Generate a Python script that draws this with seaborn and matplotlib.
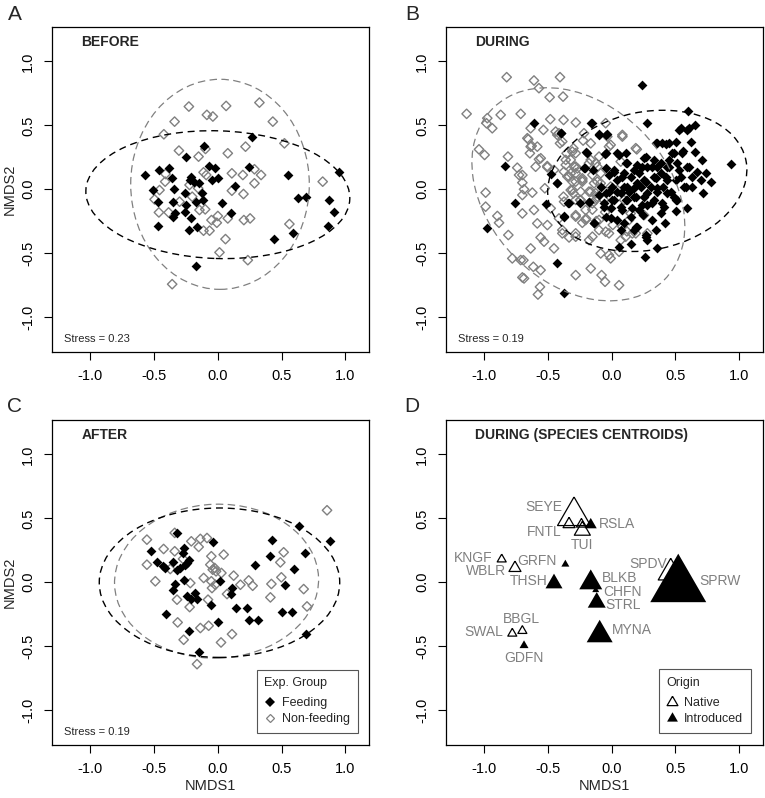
import numpy as np
import pandas as pd
import matplotlib
matplotlib.use("Agg")
import matplotlib.pyplot as plt
from matplotlib.patches import Ellipse
from matplotlib.lines import Line2D
import seaborn as sns

# ---------------------------------------------------------------- data
# Panel A (BEFORE): site scores (NMDS1, NMDS2)
A_feeding = [(-0.574, 0.111), (-0.462, 0.150), (-0.379, 0.169), (-0.507, -0.007), (-0.470, -0.098),
             (-0.470, -0.289), (-0.360, 0.085), (-0.352, -0.098), (-0.342, -0.001), (-0.332, -0.184),
             (-0.352, -0.216), (-0.253, 0.255), (-0.258, -0.027), (-0.253, -0.124), (-0.258, -0.176),
             (-0.209, 0.098), (-0.222, 0.072), (-0.183, 0.059), (-0.144, 0.051), (-0.209, -0.229),
             (-0.227, -0.320), (-0.170, -0.098), (-0.125, -0.027), (-0.117, -0.085), (-0.162, -0.294),
             (-0.110, 0.341), (-0.070, 0.182), (-0.026, 0.163), (-0.047, 0.072), (0.003, 0.085),
             (0.034, -0.111), (0.104, -0.184), (0.138, 0.025), (0.243, 0.176), (0.269, 0.412),
             (-0.170, -0.600), (0.548, 0.111), (0.627, -0.067), (0.692, -0.059), (0.439, -0.391),
             (0.587, -0.341), (0.948, 0.132), (0.875, -0.085), (0.914, -0.182), (0.862, -0.289)]
A_nonfeeding = [(-0.227, 0.647), (-0.086, 0.582), (-0.039, 0.569), (0.065, 0.652), (0.326, 0.678),
                (0.431, 0.529), (-0.339, 0.529), (-0.423, 0.430), (-0.305, 0.302), (-0.151, 0.255),
                (-0.097, 0.315), (0.078, 0.281), (0.217, 0.333), (0.522, 0.359), (-0.410, 0.119),
                (-0.413, 0.059), (-0.457, -0.007), (-0.496, -0.080), (-0.462, -0.182), (-0.386, -0.182),
                (-0.300, -0.098), (-0.201, -0.059), (-0.222, 0.033), (-0.154, 0.007), (-0.144, -0.163),
                (-0.099, -0.158), (-0.091, 0.111), (-0.112, -0.325), (-0.065, -0.325), (-0.050, -0.242),
                (0.000, -0.210), (-0.008, -0.263), (0.078, -0.229), (0.110, 0.124), (0.110, -0.012),
                (0.196, 0.111), (0.201, -0.038), (0.287, 0.156), (0.339, 0.111), (0.287, 0.046),
                (0.204, -0.242), (0.253, -0.229), (0.060, -0.391), (0.013, -0.495), (0.235, -0.556),
                (-0.358, -0.744), (0.561, -0.273), (0.822, 0.059), (-0.112, 0.132)]

# Panel B (DURING)
B_feeding = [(0.242, 0.817), (-0.608, 0.522), (-0.163, 0.522), (0.281, 0.522), (0.603, 0.613),
             (-0.393, 0.438), (-0.098, 0.433), (-0.039, 0.433), (-0.837, 0.181), (-0.190, 0.281),
             (-0.051, 0.276), (0.059, 0.268), (0.268, 0.250), (-0.209, 0.168), (-0.143, 0.150),
             (-0.477, 0.116), (-0.425, 0.046), (-0.757, -0.111), (-0.974, -0.307), (-0.516, -0.116),
             (-0.373, -0.210), (-0.341, -0.111), (-0.247, -0.111), (-0.137, -0.268), (-0.176, -0.098),
             (-0.425, -0.577), (-0.373, -0.812), (0.059, -0.451), (0.155, -0.433), (0.260, -0.529),
             (0.359, -0.464), (0.281, -0.399), (0.203, -0.294), (0.268, -0.378), (0.420, -0.268),
             (0.072, -0.320), (-0.007, -0.229), (0.940, 0.197), (0.359, 0.359), (0.425, 0.354),
             (0.503, 0.372), (0.543, 0.477), (0.608, 0.477), (0.652, 0.503), (0.490, 0.281),
             (0.621, 0.372), (0.652, 0.294), (0.713, 0.229), (0.739, 0.124), (0.783, 0.059),
             (0.720, -0.033), (0.595, -0.150), (0.516, -0.085), (0.503, -0.168), (0.412, -0.137),
             (0.333, -0.085), (0.359, 0.007), (0.438, 0.072), (0.543, 0.098), (0.595, 0.176),
             (0.673, 0.137), (0.516, 0.203), (0.438, 0.176), (0.359, 0.176), (0.281, 0.176),
             (0.203, 0.189), (0.124, 0.203), (0.098, 0.124), (0.150, 0.098), (0.216, 0.124),
             (0.255, 0.072), (0.333, 0.098), (0.386, 0.124), (0.307, 0.020), (0.229, 0.020),
             (0.176, 0.007), (0.098, 0.020), (0.046, 0.072), (-0.020, 0.111), (-0.085, 0.020),
             (-0.046, -0.033), (0.007, -0.085), (-0.059, -0.137), (0.072, -0.137), (0.124, -0.085),
             (0.176, -0.059), (0.255, -0.059), (0.281, -0.124), (0.216, -0.163), (0.150, -0.216),
             (0.098, -0.268), (0.490, -0.059), (0.569, 0.020), (0.634, 0.020), (0.700, 0.072),
             (0.438, -0.033), (0.386, -0.190), (0.320, -0.242), (0.072, -0.033), (0.020, 0.150),
             (0.110, 0.280), (0.330, 0.230), (0.450, 0.230), (0.560, 0.300), (0.250, -0.200),
             (0.180, -0.320), (0.350, -0.320), (0.000, 0.020), (0.140, -0.020), (0.400, 0.020),
             (-0.150, 0.517), (-0.098, 0.425), (-0.046, 0.425), (-0.203, 0.295), (-0.046, 0.282),
             (0.046, 0.282), (0.111, 0.203), (0.255, 0.242), (0.346, 0.360), (0.399, 0.360),
             (0.451, 0.360), (0.477, 0.282), (0.556, 0.282), (0.529, 0.465), (0.595, 0.465),
             (-0.216, 0.164), (-0.046, 0.164), (0.020, 0.138), (0.085, 0.099), (0.176, 0.151),
             (0.242, 0.177), (0.320, 0.177), (0.386, 0.203), (0.451, 0.177), (0.529, 0.151),
             (0.608, 0.177), (0.634, 0.099), (0.582, 0.020), (0.503, 0.072), (0.425, 0.099),
             (0.346, 0.085), (0.268, 0.059), (0.203, 0.046), (0.124, 0.020), (0.046, -0.019),
             (-0.020, -0.019), (-0.098, -0.045), (-0.177, -0.097), (-0.059, -0.111), (0.020, -0.084),
             (0.111, -0.084), (0.190, -0.058), (0.281, -0.032), (0.359, -0.019), (0.464, -0.019),
             (0.503, -0.084), (0.399, -0.111), (0.320, -0.111), (0.242, -0.124), (0.163, -0.150),
             (0.085, -0.163), (-0.007, -0.150), (-0.046, -0.215), (0.046, -0.241), (0.268, -0.359),
             (0.190, -0.294), (-0.137, -0.267), (-0.333, -0.111), (-0.399, 0.438), (-0.373, -0.215),
             (-0.425, 0.046)]
B_nonfeeding = [(-1.136, 0.590), (-0.822, 0.877), (-0.608, 0.851), (-0.569, 0.791), (-0.404, 0.877),
                (-0.485, 0.720), (-0.380, 0.725), (-0.974, 0.556), (-0.869, 0.582), (-0.935, 0.477),
                (-0.980, 0.516), (-0.712, 0.590), (-0.634, 0.477), (-0.534, 0.464), (-0.480, 0.548),
                (-0.376, 0.542), (-0.280, 0.522), (-1.039, 0.312), (-0.995, 0.268), (-0.812, 0.255),
                (-0.739, 0.168), (-0.660, 0.399), (-0.634, 0.333), (-0.582, 0.333), (-0.640, 0.281),
                (-0.569, 0.234), (-0.595, 0.176), (-0.504, 0.181), (-0.425, 0.425), (-0.404, 0.359),
                (-0.299, 0.320), (-0.352, 0.281), (-0.216, 0.438), (-0.163, 0.359), (-0.020, 0.333),
                (0.085, 0.412), (0.198, 0.312), (-0.699, 0.111), (-0.699, 0.051), (-0.686, -0.001),
                (-0.621, -0.027), (-0.699, -0.046), (-0.987, -0.027), (-0.987, -0.137), (-0.895, -0.210),
                (-0.882, -0.263), (-0.809, -0.359), (-0.699, -0.190), (-0.608, -0.163), (-0.523, 0.007),
                (-0.451, 0.150), (-0.373, 0.137), (-0.320, 0.124), (-0.268, 0.163), (-0.307, 0.059),
                (-0.229, 0.072), (-0.320, -0.007), (-0.299, -0.033), (-0.377, -0.059), (-0.247, -0.085),
                (-0.163, -0.020), (-0.150, -0.111), (-0.111, 0.176), (-0.085, 0.124), (-0.111, -0.059),
                (-0.059, -0.085), (-0.477, -0.150), (-0.412, -0.229), (-0.503, -0.281), (-0.281, -0.203),
                (-0.229, -0.263), (-0.281, -0.346), (-0.333, -0.378), (-0.634, -0.464), (-0.451, -0.464),
                (-0.556, -0.378), (-0.778, -0.542), (-0.691, -0.556), (-0.613, -0.608), (-0.556, -0.634),
                (-0.699, -0.691), (-0.561, -0.765), (-0.577, -0.825), (-0.281, -0.673), (-0.163, -0.621),
                (-0.176, -0.399), (-0.085, -0.503), (-0.020, -0.516), (-0.007, -0.542), (-0.078, -0.673),
                (-0.051, -0.725), (0.059, -0.752), (0.059, -0.490), (-0.020, -0.346), (-0.098, -0.320),
                (0.072, -0.399), (0.137, -0.242), (0.190, -0.346), (0.255, -0.203), (0.150, -0.190),
                (0.098, -0.085), (0.046, -0.007), (-0.007, 0.020), (-0.137, 0.046), (-0.085, 0.046),
                (-0.098, 0.255), (0.072, 0.216), (0.281, -0.346), (-0.163, 0.229), (-0.582, -0.268),
                (-0.386, -0.320), (-0.652, 0.391), (-0.626, 0.339), (-0.555, 0.242), (-0.503, 0.172),
                (-0.438, 0.451), (-0.307, 0.294), (-0.223, 0.381), (-0.359, 0.229), (-0.294, 0.177),
                (-0.725, 0.111), (-0.346, 0.099), (-0.229, 0.059), (-0.281, 0.125), (-0.372, -0.098),
                (-0.242, -0.085), (-0.150, -0.160), (-0.200, -0.230), (-0.120, -0.250), (-0.050, -0.180),
                (0.010, -0.280), (0.120, -0.330), (-0.529, -0.411), (-0.712, -0.555), (-0.686, -0.699),
                (-0.412, 0.438), (-0.386, 0.373), (-0.281, 0.282), (-0.320, 0.229), (-0.359, 0.190),
                (-0.281, 0.177), (-0.177, 0.203), (-0.124, 0.203), (-0.333, 0.099), (-0.281, 0.059),
                (-0.229, 0.085), (-0.150, 0.112), (-0.111, 0.059), (-0.307, -0.006), (-0.242, -0.019),
                (-0.177, -0.019), (-0.124, -0.032), (-0.281, -0.084), (-0.203, -0.163), (-0.124, -0.084),
                (-0.281, -0.215), (-0.203, -0.241), (-0.098, -0.241), (-0.386, -0.346), (-0.281, -0.372),
                (-0.150, -0.372), (-0.046, -0.333), (0.085, -0.294), (0.163, -0.346), (0.111, -0.372),
                (-0.033, 0.412), (0.085, 0.425), (0.190, 0.321), (-0.046, 0.517), (-0.007, 0.347)]

# Panel C (AFTER)
C_feeding = [(-0.320, 0.386), (-0.040, 0.312), (-0.268, 0.268), (-0.273, 0.229), (-0.524, 0.242),
             (-0.477, 0.155), (-0.417, 0.111), (-0.430, 0.124), (-0.354, 0.155), (-0.294, 0.111),
             (-0.320, 0.098), (-0.255, 0.137), (-0.229, 0.176), (-0.242, 0.150), (-0.268, 0.020),
             (-0.338, -0.012), (-0.354, -0.059), (-0.242, -0.111), (-0.208, -0.132), (-0.163, -0.132),
             (-0.176, -0.085), (-0.054, -0.177), (0.014, 0.007), (0.111, -0.046), (0.106, -0.093),
             (-0.406, -0.250), (-0.229, -0.386), (0.001, -0.315), (-0.150, -0.550), (0.145, -0.203),
             (0.229, -0.203), (0.242, -0.299), (0.315, -0.294), (0.289, 0.137), (0.407, 0.203),
             (0.425, 0.333), (0.503, -0.234), (0.524, -0.020), (0.582, -0.234), (0.595, 0.106),
             (0.681, 0.226), (0.634, 0.443), (0.877, 0.326), (0.694, -0.407)]
C_nonfeeding = [(0.856, 0.563), (-0.556, 0.333), (-0.556, 0.137), (-0.490, 0.007), (-0.425, 0.260),
                (-0.373, 0.103), (-0.338, 0.242), (-0.338, 0.386), (-0.208, 0.320), (-0.137, 0.339),
                (-0.085, 0.346), (-0.150, 0.276), (-0.051, 0.203), (0.046, 0.216), (-0.059, 0.137),
                (-0.040, 0.098), (-0.025, 0.111), (-0.014, 0.085), (0.028, 0.072), (-0.111, 0.033),
                (-0.051, 0.007), (-0.020, -0.020), (-0.046, -0.046), (0.072, -0.093), (0.124, 0.051),
                (0.177, -0.020), (0.242, 0.014), (0.273, -0.028), (-0.216, -0.007), (-0.320, -0.137),
                (-0.221, -0.195), (-0.077, -0.137), (-0.315, -0.315), (-0.137, -0.359), (-0.072, -0.341),
                (-0.268, -0.451), (0.025, -0.472), (0.111, -0.407), (-0.163, -0.642), (0.420, -0.014),
                (0.498, 0.038), (0.490, 0.155), (0.516, 0.234), (0.412, -0.119), (0.673, -0.054),
                (0.699, -0.190), (-0.273, 0.182)]

# Ellipses: centre x, centre y, full width, full height, angle (deg)
A_ell_feeding = (0.000, -0.043, 2.07, 1.00, -1.8)
A_ell_nonfeeding = (0.017, 0.038, 1.40, 1.645, 0.0)
B_ell_feeding = (0.280, 0.065, 1.58, 1.08, 12.0)
B_ell_nonfeeding = (-0.260, -0.040, 1.90, 1.40, -45.0)
C_ell_feeding = (0.013, -0.004, 1.885, 1.17, 0.0)
C_ell_nonfeeding = (-0.010, 0.008, 1.60, 1.205, 2.0)

stress_values = ["0.23", "0.19", "0.19"]
panel_titles = ["BEFORE", "DURING", "AFTER", "DURING (SPECIES CENTROIDS)"]
panel_letters = ["A", "B", "C", "D"]
tick_values = [-1.0, -0.5, 0.0, 0.5, 1.0]
tick_labels = ["-1.0", "-0.5", "0.0", "0.5", "1.0"]

# Panel D: species centroids
species = ["SEYE", "FNTL", "", "TUI", "RSLA", "KNGF", "WBLR", "GRFN", "THSH", "BLKB",
           "CHFN", "STRL", "MYNA", "SPDV", "SPRW", "BBGL", "SWAL", "GDFN"]
species_x = [-0.294, -0.333, -0.236, -0.229, -0.163, -0.861, -0.757, -0.362, -0.451, -0.163,
             -0.124, -0.116, -0.093, 0.464, 0.523, -0.699, -0.778, -0.686]
species_y = [0.518, 0.454, 0.454, 0.404, 0.449, 0.179, 0.111, 0.140, -0.010, -0.004,
             -0.062, -0.159, -0.412, 0.074, -0.030, -0.381, -0.402, -0.496]
species_origin = ["Native", "Native", "Native", "Native", "Introduced", "Native", "Native", "Introduced",
                  "Introduced", "Introduced", "Introduced", "Introduced", "Introduced", "Native",
                  "Introduced", "Native", "Native", "Introduced"]
species_cex = [3.3, 1.2, 1.0, 1.6, 1.2, 0.9, 1.2, 0.8, 1.7, 2.3, 0.7, 1.8, 2.6, 2.5, 5.6, 0.9, 0.9, 0.9]

# ---------------------------------------------------------------- layout / style
W, H = 765, 798
GREY = "#808080"
XLIM = (-1.30, 1.185)
YLIM = (-1.275, 1.27)
axes_px = {"A": (52, 27), "B": (445.7, 27), "C": (52, 420), "D": (445.7, 420)}
AX_W, AX_H = 317, 325
label_xy = {"SEYE": (-0.529, 0.589), "FNTL": (-0.529, 0.390), "TUI": (-0.234, 0.294),
            "RSLA": (0.041, 0.459), "KNGF": (-1.086, 0.189), "WBLR": (-0.987, 0.085),
            "GRFN": (-0.582, 0.163), "THSH": (-0.647, 0.006), "BLKB": (0.067, 0.030),
            "CHFN": (0.085, -0.075), "STRL": (0.090, -0.182), "MYNA": (0.161, -0.373),
            "SPDV": (0.289, 0.145), "SPRW": (0.848, 0.006), "BBGL": (-0.704, -0.287),
            "SWAL": (-1.005, -0.394), "GDFN": (-0.686, -0.590)}

sns.set_theme(style="white")
plt.rcParams["font.family"] = ["Liberation Sans", "DejaVu Sans"]
plt.rcParams["axes.linewidth"] = 0.9

fig = plt.figure(figsize=(W / 100, H / 100), dpi=100)
axes = {}
for k, (lx, ty) in axes_px.items():
    axes[k] = fig.add_axes([lx / W, 1 - (ty + AX_H) / H, AX_W / W, AX_H / H])

TRI = np.array([[0, 0.57735], [-0.5, -0.288675], [0.5, -0.288675], [0, 0.57735]])
S_FILLED = 25
S_OPEN = 23


def style_axes(ax, xlabel, ylabel):
    ax.set_xlim(*XLIM)
    ax.set_ylim(*YLIM)
    ax.set_xticks(tick_values)
    ax.set_xticklabels(tick_labels)
    ax.set_yticks(tick_values)
    ax.set_yticklabels(tick_labels, rotation=90, va="center")
    ax.tick_params(axis="both", which="major", direction="out", length=5.5, width=0.8,
                   labelsize=10.5, color="black", labelcolor="black", pad=6.5,
                   bottom=True, left=True)
    for sp in ax.spines.values():
        sp.set_color("black")
        sp.set_linewidth(0.9)
    ax.set_xlabel(xlabel, fontsize=10.5)
    ax.set_ylabel(ylabel, fontsize=10.5)
    ax.xaxis.set_label_coords(0.5, -0.105)
    ax.yaxis.set_label_coords(-0.112, 0.5)


def add_ellipse(ax, e, color, lw, dashes):
    cx, cy, w, h, ang = e
    ax.add_patch(Ellipse((cx, cy), w, h, angle=ang, fill=False, edgecolor=color,
                         linewidth=lw, linestyle=(0, dashes), zorder=5))


def site_panel(ax, feed, nonfeed, ell_f, ell_n, title, stress, xlabel, ylabel):
    dn = pd.DataFrame(nonfeed, columns=["NMDS1", "NMDS2"])
    df = pd.DataFrame(feed, columns=["NMDS1", "NMDS2"])
    sns.scatterplot(data=dn, x="NMDS1", y="NMDS2", marker="D", s=S_OPEN,
                    facecolor="none", edgecolor=GREY, linewidth=1.0, ax=ax, legend=False, zorder=3)
    sns.scatterplot(data=df, x="NMDS1", y="NMDS2", marker="D", s=S_FILLED,
                    color="black", linewidth=0, ax=ax, legend=False, zorder=4)
    add_ellipse(ax, ell_n, GREY, 0.9, (6, 3.5))
    add_ellipse(ax, ell_f, "black", 1.0, (5, 3.5))
    ax.text(0.092, 0.955, title, transform=ax.transAxes, fontsize=10, fontweight="bold",
            ha="left", va="center")
    ax.text(0.038, 0.04, f"Stress = {stress}", transform=ax.transAxes, fontsize=8,
            ha="left", va="center")
    style_axes(ax, xlabel, ylabel)


def make_legend(ax, handles, title, anchor):
    leg = ax.legend(handles=handles, title=title, loc="lower right", bbox_to_anchor=anchor,
                    borderaxespad=0, fontsize=9, title_fontsize=9, alignment="left",
                    frameon=True, fancybox=False, edgecolor="#555555", framealpha=1,
                    handlelength=0.9, handletextpad=0.55, borderpad=0.6, labelspacing=0.32)
    leg.get_frame().set_linewidth(0.8)
    leg._legend_box.sep = 6
    return leg


site_panel(axes["A"], A_feeding, A_nonfeeding, A_ell_feeding, A_ell_nonfeeding,
           panel_titles[0], stress_values[0], "", "NMDS2")
site_panel(axes["B"], B_feeding, B_nonfeeding, B_ell_feeding, B_ell_nonfeeding,
           panel_titles[1], stress_values[1], "", "")
site_panel(axes["C"], C_feeding, C_nonfeeding, C_ell_feeding, C_ell_nonfeeding,
           panel_titles[2], stress_values[2], "NMDS1", "NMDS2")

make_legend(axes["C"],
            [Line2D([], [], marker="D", linestyle="none", color="black", markersize=4.6,
                    markeredgewidth=0, label="Feeding"),
             Line2D([], [], marker="D", linestyle="none", markerfacecolor="none",
                    markeredgecolor=GREY, markersize=4.4, markeredgewidth=0.9, label="Non-feeding")],
            "Exp. Group", (0.965, 0.037))

# Panel D
axd = axes["D"]
dd = pd.DataFrame({"name": species, "NMDS1": species_x, "NMDS2": species_y,
                   "origin": species_origin, "cex": species_cex})
dd["area"] = (dd["cex"] * 10 / (0.866 * 100 / 72)) ** 2
amin, amax = dd["area"].min(), dd["area"].max()
sns.scatterplot(data=dd[dd.origin == "Native"], x="NMDS1", y="NMDS2", size="area",
                sizes=(amin, amax), size_norm=(amin, amax), marker=TRI, facecolor="none",
                edgecolor="black", linewidth=0.9, ax=axd, legend=False, zorder=3)
sns.scatterplot(data=dd[dd.origin == "Introduced"], x="NMDS1", y="NMDS2", size="area",
                sizes=(amin, amax), size_norm=(amin, amax), marker=TRI, color="black",
                linewidth=0, ax=axd, legend=False, zorder=4)
for name in species:
    if name in label_xy:
        lx, ly = label_xy[name]
        axd.text(lx, ly, name, color=GREY, fontsize=10, ha="center", va="center", zorder=6)
axd.text(0.092, 0.954, panel_titles[3], transform=axd.transAxes, fontsize=10,
         fontweight="bold", ha="left", va="center")
style_axes(axd, "NMDS1", "")
make_legend(axd,
            [Line2D([], [], marker=TRI, linestyle="none", markerfacecolor="none",
                    markeredgecolor="black", markersize=9, markeredgewidth=0.9, label="Native"),
             Line2D([], [], marker=TRI, linestyle="none", color="black", markersize=9,
                    markeredgewidth=0, label="Introduced")],
            "Origin", (0.963, 0.038))

for k, (lx, ty) in axes_px.items():
    cx = 15 if k in "AC" else 412
    cy = 14.5 if k in "AB" else 406
    fig.text(cx / W, 1 - cy / H, k, fontsize=15, ha="center", va="center")

fig.savefig("out.png", dpi=100)
